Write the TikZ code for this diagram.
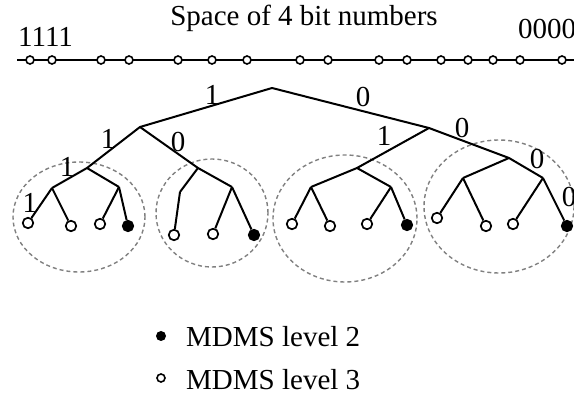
\documentclass[tikz,border=0pt]{standalone}
\usepackage{fontspec}
\setmainfont{Liberation Serif}
\definecolor{dgray}{RGB}{128,128,128}
\begin{document}
\begin{tikzpicture}[x=1pt,y=-1pt,
  edge/.style={line width=2pt},
  leaf/.style={circle,draw,line width=1.7pt,fill=white,minimum size=10.5pt,inner sep=0pt},
  full/.style={leaf,fill=black},
  numpt/.style={circle,draw,line width=1.6pt,fill=white,minimum size=8pt,inner sep=0pt},
  grp/.style={draw=dgray,line width=1.4pt,dash pattern=on 4pt off 3pt},
  lbl/.style={font=\fontsize{29}{31}\selectfont,inner sep=0pt},
]
\useasboundingbox (0,0) rectangle (574,398);

% groups
\draw[grp] (79,217) ellipse [x radius=66pt, y radius=55pt];
\draw[grp] (212,213) ellipse [x radius=56pt, y radius=54pt];
\draw[grp] (345,218.5) ellipse [x radius=72pt, y radius=63.5pt];
\draw[grp] (499,206.5) ellipse [x radius=75pt, y radius=66.5pt];

% number line
\coordinate (ns) at (17,60);
\coordinate (ne) at (580,60);
\draw[edge] (ns) -- (ne);
\foreach \x [count=\i] in {30,52,101,129,178,212,247,300,328,379,407,441,468,493,520,562}
  \node[numpt] (n\i) at (\x,60) {};
\node[lbl,anchor=base] (title) at (304,26) {Space of 4 bit numbers};
\node[lbl,anchor=base west] (hi) at (18,47) {1111};
\node[lbl,anchor=base west] (lo) at (518,39) {0000};

% tree
\coordinate (root) at (272,88);
\coordinate (L) at (140,127);
\coordinate (R) at (429,128);
\coordinate (LL) at (87,168);
\coordinate (LR) at (198,168);
\coordinate (RL) at (357,168);
\coordinate (RR) at (509,158);
\coordinate (LLL) at (52,188);
\coordinate (LLR) at (119,187);
\coordinate (LRL) at (180,192);
\coordinate (LRR) at (232,187);
\coordinate (RLL) at (311,187);
\coordinate (RLR) at (391,187);
\coordinate (RRL) at (463,178);
\coordinate (RRR) at (543,178);

\node[leaf] (a1) at (28,223) {};
\node[leaf] (a2) at (71,226) {};
\node[leaf] (a3) at (100,224) {};
\node[full] (a4) at (128,226) {};
\node[leaf] (b1) at (174,235) {};
\node[leaf] (b2) at (213,234) {};
\node[full] (b3) at (254,235) {};
\node[leaf] (c1) at (292,224) {};
\node[leaf] (c2) at (330,226) {};
\node[leaf] (c3) at (367,224) {};
\node[full] (c4) at (407,225) {};
\node[leaf] (d1) at (437,218) {};
\node[leaf] (d2) at (486,226) {};
\node[leaf] (d3) at (513,224) {};
\node[full] (d4) at (567,226) {};

\draw[edge,line join=round] (L) -- (root) -- (R);
\draw[edge,line join=round] (LL) -- (L) -- (LR);
\draw[edge,line join=round] (RL) -- (R) -- (RR);
\draw[edge,line join=round] (LLL) -- (LL) -- (LLR);
\draw[edge,line join=round] (LRL) -- (LR) -- (LRR);
\draw[edge,line join=round] (RLL) -- (RL) -- (RLR);
\draw[edge,line join=round] (RRL) -- (RR) -- (RRR);
\draw[edge] (LLL) -- (a1);
\draw[edge] (LLL) -- (a2);
\draw[edge] (LLR) -- (a3);
\draw[edge] (LLR) -- (a4);
\draw[edge] (LRL) -- (b1);
\draw[edge] (LRR) -- (b2);
\draw[edge] (LRR) -- (b3);
\draw[edge] (RLL) -- (c1);
\draw[edge] (RLL) -- (c2);
\draw[edge] (RLR) -- (c3);
\draw[edge] (RLR) -- (c4);
\draw[edge] (RRL) -- (d1);
\draw[edge] (RRL) -- (d2);
\draw[edge] (RRR) -- (d3);
\draw[edge] (RRR) -- (d4);

% edge labels
\node[lbl] (e1) at (212,95) {1};
\node[lbl] (e2) at (363,97) {0};
\node[lbl] (e3) at (108,139) {1};
\node[lbl] (e4) at (178,142) {0};
\node[lbl] (e5) at (67,167) {1};
\node[lbl] (e6) at (30,203) {1};
\node[lbl] (e7) at (384,136) {1};
\node[lbl] (e8) at (462,128) {0};
\node[lbl] (e9) at (537,159) {0};
\node[lbl] (e10) at (569,197) {0};

% legend
\node[circle,fill=black,minimum size=10pt,inner sep=0pt] (k2) at (161,336) {};
\node[circle,draw,line width=1.6pt,fill=white,minimum size=8pt,inner sep=0pt] (k3) at (161,378) {};
\node[lbl,anchor=base west] (t2) at (186,347) {MDMS level 2};
\node[lbl,anchor=base west] (t3) at (186,390) {MDMS level 3};
\end{tikzpicture}
\end{document}
